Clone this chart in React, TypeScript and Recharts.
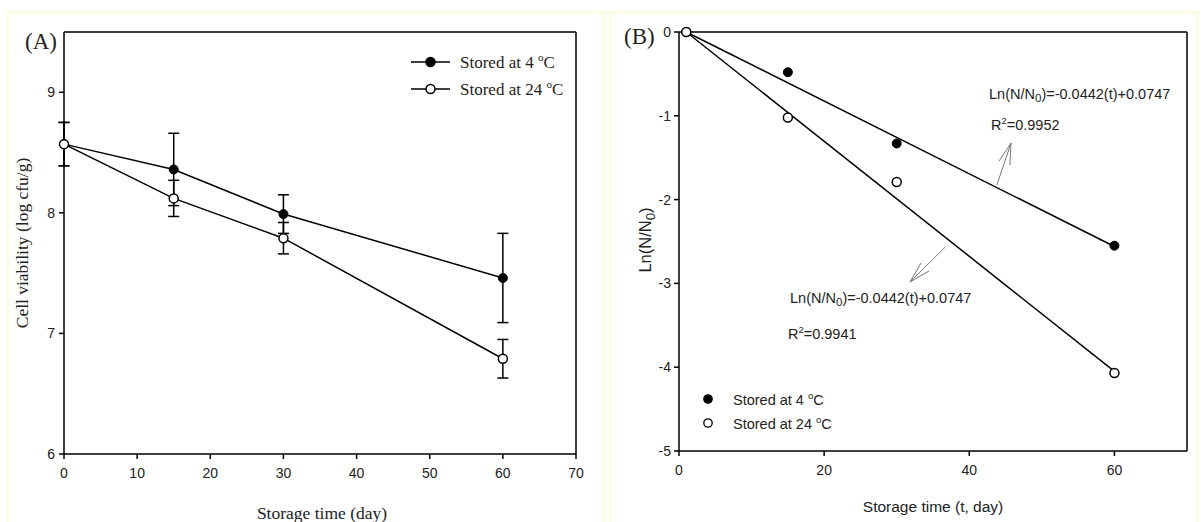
import React from 'react';
import { ComposedChart, Line, Scatter, XAxis, YAxis, ErrorBar, ReferenceLine } from 'recharts';

// panel A: viability with SD
const DAYS = [0, 15, 30, 60];
const VIAB_4C = [8.57, 8.36, 7.99, 7.46];
const SD_4C = [0.18, 0.3, 0.16, 0.37];
const VIAB_24C = [8.57, 8.12, 7.79, 6.79];
const SD_24C = [0.18, 0.15, 0.13, 0.16];
const TICKS_A_X = [0, 10, 20, 30, 40, 50, 60, 70];
const TICKS_A_Y = [6, 7, 8, 9];

// panel B: ln(N/N0) with fitted lines
const T_B = [1, 15, 30, 60];
const LN_4C = [0, -0.48, -1.33, -2.55];
const LN_24C = [0, -1.02, -1.79, -4.07];
const FIT_T = [1, 60];
const FIT_4C = [0, -2.56];
const FIT_24C = [0, -4.05];
const TICKS_B_X = [0, 20, 40, 60];
const TICKS_B_Y = [0, -1, -2, -3, -4, -5];

// annotation arrows (tip, tail, barb, barb) in data units
const ARROW_UP = [[45.75, -1.325], [43.8, -1.826], [44.1, -1.54], [45.6, -1.587]];
const ARROW_DN = [[31.83, -2.983], [36.65, -2.57], [34.45, -2.852], [33.35, -2.757]];

const dataA = DAYS.map((d, i) => ({ d, v4: VIAB_4C[i], e4: SD_4C[i], v24: VIAB_24C[i], e24: SD_24C[i] }));
const pts4 = T_B.map((t, i) => ({ t, v: LN_4C[i] }));
const pts24 = T_B.map((t, i) => ({ t, v: LN_24C[i] }));
const fit4 = FIT_T.map((t, i) => ({ t, v: FIT_4C[i] }));
const fit24 = FIT_T.map((t, i) => ({ t, v: FIT_24C[i] }));

const ARIAL = "Arial, 'Liberation Sans', sans-serif";
const TIMES = "'Times New Roman', 'Liberation Serif', serif";
const axisLine = { stroke: '#000', strokeWidth: 1.5 };
const tickStyle = { fontSize: 14, fontFamily: ARIAL, fill: '#222' };

const Filled = (p: any) => (p.cx == null ? <g /> : <circle cx={p.cx} cy={p.cy} r={4.5} fill="#000" stroke="#000" />);
const Open = (p: any) => (p.cx == null ? <g /> : <circle cx={p.cx} cy={p.cy} r={4.5} fill="#fff" stroke="#000" strokeWidth={1.5} />);

const arrowSegs = (a: number[][]) =>
  [1, 2, 3].map((k) => (
    <ReferenceLine
      key={k}
      segment={[{ x: a[0][0], y: a[0][1] }, { x: a[k][0], y: a[k][1] }]}
      stroke="#777"
      strokeWidth={1}
    />
  ));

const Txt = ({ x, y, children, font = ARIAL, size = 14.5, center = false, rotate = false }: any) => (
  <div style={{
    position: 'absolute', left: x, top: y, fontFamily: font, fontSize: size, lineHeight: '20px',
    whiteSpace: 'nowrap', color: '#222',
    transform: rotate ? 'translate(-50%,-50%) rotate(-90deg)' : center ? 'translate(-50%,-50%)' : 'translateY(-50%)',
  }}>{children}</div>
);

const sup = { fontSize: '0.65em', verticalAlign: '0.6em' };
const sub = { fontSize: '0.8em', verticalAlign: '-0.3em' };

const LegendA = ({ y, filled, label }: any) => (
  <div style={{ position: 'absolute', left: 411, top: y - 10, height: 20, display: 'flex', alignItems: 'center' }}>
    <svg width={40} height={18}>
      <line x1={0} y1={9} x2={39} y2={9} stroke="#000" strokeWidth={1.5} />
      <circle cx={19.5} cy={9} r={4.5} fill={filled ? '#000' : '#fff'} stroke="#000" strokeWidth={1.5} />
    </svg>
    <span style={{ marginLeft: 9, fontFamily: TIMES, fontSize: 17, color: '#222' }}>
      {label} <span style={sup}>o</span>C
    </span>
  </div>
);

const LegendB = ({ y, filled, label }: any) => (
  <div style={{ position: 'absolute', left: 702, top: y - 9, height: 18, display: 'flex', alignItems: 'center' }}>
    <svg width={12} height={18}>
      <circle cx={6} cy={9} r={4.2} fill={filled ? '#000' : '#fff'} stroke="#000" strokeWidth={1.3} />
    </svg>
    <span style={{ marginLeft: 19, fontFamily: ARIAL, fontSize: 14.5, color: '#222' }}>
      {label} <span style={sup}>o</span>C
    </span>
  </div>
);

export default function App() {
  return (
    <div style={{ position: 'absolute', left: 0, top: 0, width: 1203, height: 522, background: '#fff', overflow: 'hidden' }}>
      <div style={{ position: 'absolute', left: 6, top: 11, width: 600, height: 520, border: '3px solid #fefbe4', boxSizing: 'border-box' }} />
      <div style={{ position: 'absolute', left: 609, top: 11, width: 590, height: 520, border: '3px solid #fefbe4', boxSizing: 'border-box' }} />

      <div style={{ position: 'absolute', left: 0, top: 0 }}>
        <ComposedChart width={600} height={522} data={dataA} margin={{ top: 32, right: 24, left: 0, bottom: 0 }}>
          <XAxis dataKey="d" type="number" domain={[0, 70]} ticks={TICKS_A_X} height={68}
            axisLine={axisLine} tickLine={axisLine} tickSize={5} tickMargin={9} tick={tickStyle} />
          <YAxis type="number" domain={[6, 9.5]} ticks={TICKS_A_Y} width={64} allowDataOverflow
            axisLine={axisLine} tickLine={axisLine} tickSize={5} tickMargin={4} tick={tickStyle} />
          <ReferenceLine y={9.5} stroke="#000" strokeWidth={1.5} />
          <ReferenceLine x={70} stroke="#000" strokeWidth={1.5} />
          <Line dataKey="v4" stroke="#000" strokeWidth={1.5} dot={Filled} isAnimationActive={false}>
            <ErrorBar dataKey="e4" width={5.5} stroke="#000" strokeWidth={1.5} />
          </Line>
          <Line dataKey="v24" stroke="#000" strokeWidth={1.5} dot={Open} isAnimationActive={false}>
            <ErrorBar dataKey="e24" width={5.5} stroke="#000" strokeWidth={1.5} />
          </Line>
        </ComposedChart>
      </div>

      <div style={{ position: 'absolute', left: 603, top: 0 }}>
        <ComposedChart width={600} height={522} margin={{ top: 32, right: 16, left: 0, bottom: 0 }}>
          <XAxis dataKey="t" type="number" domain={[0, 70]} ticks={TICKS_B_X} height={71}
            axisLine={axisLine} tickLine={axisLine} tickSize={5} tickMargin={9} tick={tickStyle} />
          <YAxis dataKey="v" type="number" domain={[-5, 0]} ticks={TICKS_B_Y} width={76}
            axisLine={axisLine} tickLine={axisLine} tickSize={5} tickMargin={3} tick={tickStyle} />
          <ReferenceLine y={0} stroke="#000" strokeWidth={1.5} />
          <ReferenceLine x={70} stroke="#000" strokeWidth={1.5} />
          {arrowSegs(ARROW_UP)}
          {arrowSegs(ARROW_DN)}
          <Line data={fit4} dataKey="v" stroke="#000" strokeWidth={1.5} dot={false} isAnimationActive={false} />
          <Line data={fit24} dataKey="v" stroke="#000" strokeWidth={1.5} dot={false} isAnimationActive={false} />
          <Scatter data={pts4} dataKey="v" shape={Filled} isAnimationActive={false} />
          <Scatter data={pts24} dataKey="v" shape={Open} isAnimationActive={false} />
        </ComposedChart>
      </div>

      {/* panel A text */}
      <Txt x={25} y={42} font={TIMES} size={23}>(A)</Txt>
      <Txt x={22} y={243} font={TIMES} size={17.5} rotate>Cell viability (log cfu/g)</Txt>
      <Txt x={322} y={513} font={TIMES} size={17.5} center>Storage time (day)</Txt>
      <LegendA y={62} filled label="Stored at 4" />
      <LegendA y={89} filled={false} label="Stored at 24" />

      {/* panel B text */}
      <Txt x={624} y={37} font={TIMES} size={23}>(B)</Txt>
      <Txt x={648} y={240} size={16.5} rotate>Ln(N/N<span style={sub}>0</span>)</Txt>
      <Txt x={933} y={507} size={15.5} center>Storage time (t, day)</Txt>
      <Txt x={989} y={96}>Ln(N/N<span style={sub}>0</span>)=-0.0442(t)+0.0747</Txt>
      <Txt x={991} y={123}>R<span style={sup}>2</span>=0.9952</Txt>
      <Txt x={790} y={300}>Ln(N/N<span style={sub}>0</span>)=-0.0442(t)+0.0747</Txt>
      <Txt x={788} y={332}>R<span style={sup}>2</span>=0.9941</Txt>
      <LegendB y={399} filled label="Stored at 4" />
      <LegendB y={423} filled={false} label="Stored at 24" />
    </div>
  );
}
